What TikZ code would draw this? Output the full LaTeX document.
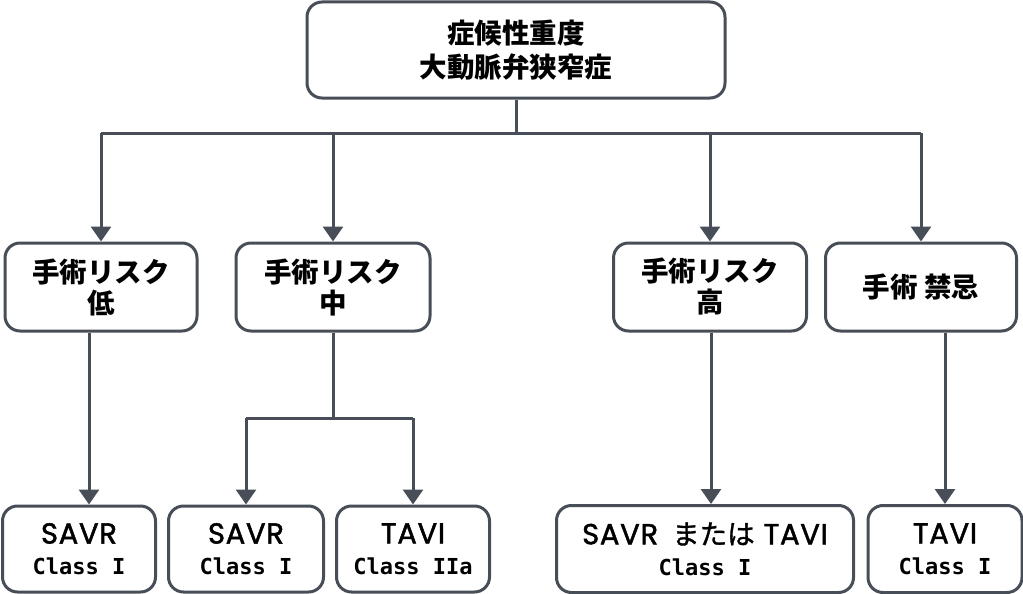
\documentclass[tikz,border=0pt]{standalone}
\usepackage{fontspec}
\setmainfont{Noto Sans CJK JP}
\newfontfamily\classfont{DejaVu Sans Mono Bold}
\newfontfamily\latinfont{Poppins}[LetterSpace=2.5,FakeBold=1.6]
\newfontfamily\jpmed{Noto Sans CJK JP}[FakeBold=1.2]
\usetikzlibrary{arrows.meta}
\definecolor{linegray}{HTML}{484E58}
\tikzset{
    box/.style={draw=linegray, line width=3pt, rounded corners=15pt, fill=white,
        align=center, inner sep=0pt, font=\bfseries\fontsize{27.5}{31}\selectfont},
    conn/.style={draw=linegray, line width=3pt},
    arr/.style={conn, -{Triangle[width=20pt,length=15pt]}}
}
\begin{document}
\begin{tikzpicture}[x=1pt,y=-1pt]

    \useasboundingbox (0,0) rectangle (1023,594);

    %top node
    \node[box, minimum width=418pt, minimum height=96pt,
        font=\bfseries\fontsize{27.5}{34}\selectfont] (top) at (516,50) {症候性重度\\大動脈弁狭窄症};

    %surgical risk nodes
    \node[box, minimum width=192pt, minimum height=88pt] (low) at (101,287) {手術リスク\\低};
    \node[box, minimum width=194pt, minimum height=88pt] (mid) at (333,287) {手術リスク\\中};
    \node[box, minimum width=193pt, minimum height=88pt] (high) at (710,287) {手術リスク\\高};
    \node[box, minimum width=191pt, minimum height=88pt] (ban) at (921,287) {手術 禁忌};

    %treatment nodes
    \def\lat#1{{\mdseries\latinfont\fontsize{29}{31}\selectfont #1}}
    \def\cls#1{\\[0pt]{\classfont\fontsize{22}{28}\selectfont Class #1}}
    \node[box, minimum width=153pt, minimum height=86pt] (savrlow) at (79,549) {\lat{SAVR}\cls{I}};
    \node[box, minimum width=155pt, minimum height=86pt] (savrmid) at (246,549) {\lat{SAVR}\cls{I}};
    \node[box, minimum width=153pt, minimum height=86pt] (tavimid) at (413,549) {\lat{TAVI}\cls{IIa}};
    \node[box, minimum width=297pt, minimum height=87pt] (either) at (705,549)
        {\lat{SAVR}\hspace{14pt}{\mdseries\jpmed または}\hspace{9pt}\lat{TAVI}\cls{I}};
    \node[box, minimum width=154pt, minimum height=87pt] (taviban) at (945,549) {\lat{TAVI}\cls{I}};

    %bus from the top node
    \coordinate (bus) at (516,133);
    \draw[conn] (top.south) -- (bus);
    \draw[conn] (bus -| low.north) -- (bus -| ban.north);
    \draw[arr] (bus -| low.north) -- (low.north);
    \draw[arr] (bus -| mid.north) -- (mid.north);
    \draw[arr] (bus -| high.north) -- (high.north);
    \draw[arr] (bus -| ban.north) -- (ban.north);

    %split below the middle risk
    \coordinate (split) at (333,418);
    \draw[conn] (mid.south) -- (split);
    \draw[conn] (split -| savrmid.north) -- (split -| tavimid.north);
    \draw[arr] (split -| savrmid.north) -- (savrmid.north);
    \draw[arr] (split -| tavimid.north) -- (tavimid.north);

    %straight lines down
    \draw[arr] ([xshift=-12pt]low.south) -- ([xshift=10pt]savrlow.north);
    \draw[arr] ([xshift=1pt]high.south) -- ([xshift=6pt]either.north);
    \draw[arr] ([xshift=24pt]ban.south) -- (taviban.north);

\end{tikzpicture}
\end{document}
